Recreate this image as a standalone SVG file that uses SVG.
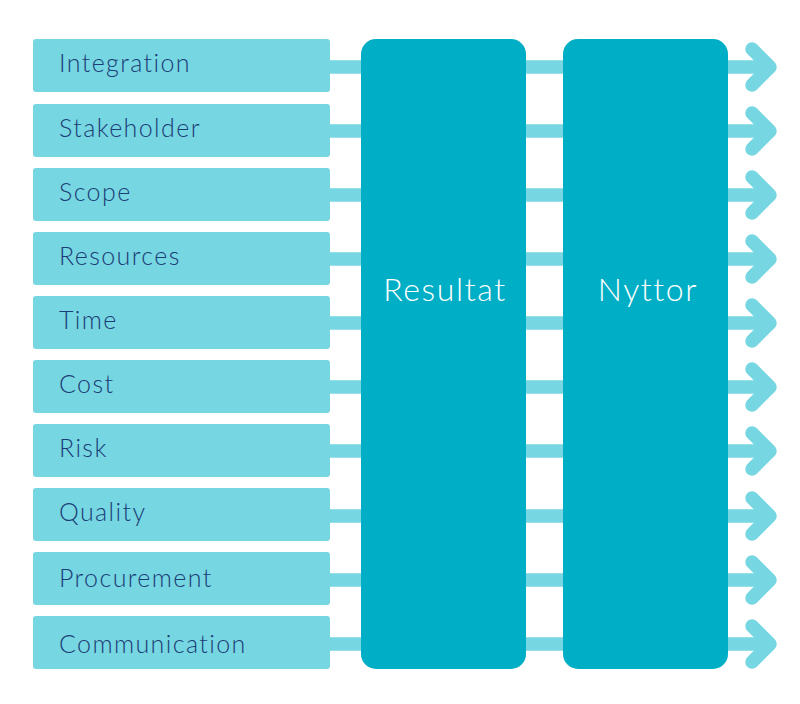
<svg xmlns="http://www.w3.org/2000/svg" width="800" height="704" viewBox="0 0 800 704">
<defs>
<style>
.conn line, .conn polyline { stroke: #76D6E2; stroke-width: 13.5; fill: none; }
.conn polyline { stroke-linecap: round; stroke-linejoin: round; }
.in rect { fill: #76D6E2; }
.in text { font-family: "Lato", "Liberation Sans", sans-serif; font-weight: 300; font-size: 25px; letter-spacing: 1.4px; fill: #1B3D75; }
.big rect { fill: #00AEC5; }
.big text { font-family: "Lato", "Liberation Sans", sans-serif; font-weight: 300; font-size: 32px; letter-spacing: 1.6px; fill: #FFFFFF; text-anchor: middle; }
</style>
</defs>
<rect width="800" height="704" fill="#FFFFFF"/>
<g id="connectors" class="conn">
<line x1="325" y1="67" x2="770" y2="67"/><polyline points="752,49 770,67 752,85"/>
<line x1="325" y1="131" x2="770" y2="131"/><polyline points="752,113 770,131 752,149"/>
<line x1="325" y1="195" x2="770" y2="195"/><polyline points="752,177 770,195 752,213"/>
<line x1="325" y1="259" x2="770" y2="259"/><polyline points="752,241 770,259 752,277"/>
<line x1="325" y1="323" x2="770" y2="323"/><polyline points="752,305 770,323 752,341"/>
<line x1="325" y1="387" x2="770" y2="387"/><polyline points="752,369 770,387 752,405"/>
<line x1="325" y1="451" x2="770" y2="451"/><polyline points="752,433 770,451 752,469"/>
<line x1="325" y1="516" x2="770" y2="516"/><polyline points="752,498 770,516 752,534"/>
<line x1="325" y1="580" x2="770" y2="580"/><polyline points="752,562 770,580 752,598"/>
<line x1="325" y1="644" x2="770" y2="644"/><polyline points="752,626 770,644 752,662"/>
</g>
<g id="integration" class="in"><rect x="33" y="39" width="297" height="53" rx="3"/><text x="59" y="72">Integration</text></g>
<g id="stakeholder" class="in"><rect x="33" y="104" width="297" height="53" rx="3"/><text x="59" y="137">Stakeholder</text></g>
<g id="scope" class="in"><rect x="33" y="168" width="297" height="53" rx="3"/><text x="59" y="201">Scope</text></g>
<g id="resources" class="in"><rect x="33" y="232" width="297" height="53" rx="3"/><text x="59" y="265">Resources</text></g>
<g id="time" class="in"><rect x="33" y="296" width="297" height="53" rx="3"/><text x="59" y="329">Time</text></g>
<g id="cost" class="in"><rect x="33" y="360" width="297" height="53" rx="3"/><text x="59" y="393">Cost</text></g>
<g id="risk" class="in"><rect x="33" y="424" width="297" height="53" rx="3"/><text x="59" y="457">Risk</text></g>
<g id="quality" class="in"><rect x="33" y="488" width="297" height="53" rx="3"/><text x="59" y="521">Quality</text></g>
<g id="procurement" class="in"><rect x="33" y="552" width="297" height="53" rx="3"/><text x="59" y="587">Procurement</text></g>
<g id="communication" class="in"><rect x="33" y="616" width="297" height="53" rx="3"/><text x="59" y="653">Communication</text></g>
<g id="resultat" class="big"><rect x="361" y="39" width="165" height="630" rx="15"/><text x="445" y="301">Resultat</text></g>
<g id="nyttor" class="big"><rect x="563" y="39" width="165" height="630" rx="15"/><text x="648" y="301">Nyttor</text></g>
</svg>
